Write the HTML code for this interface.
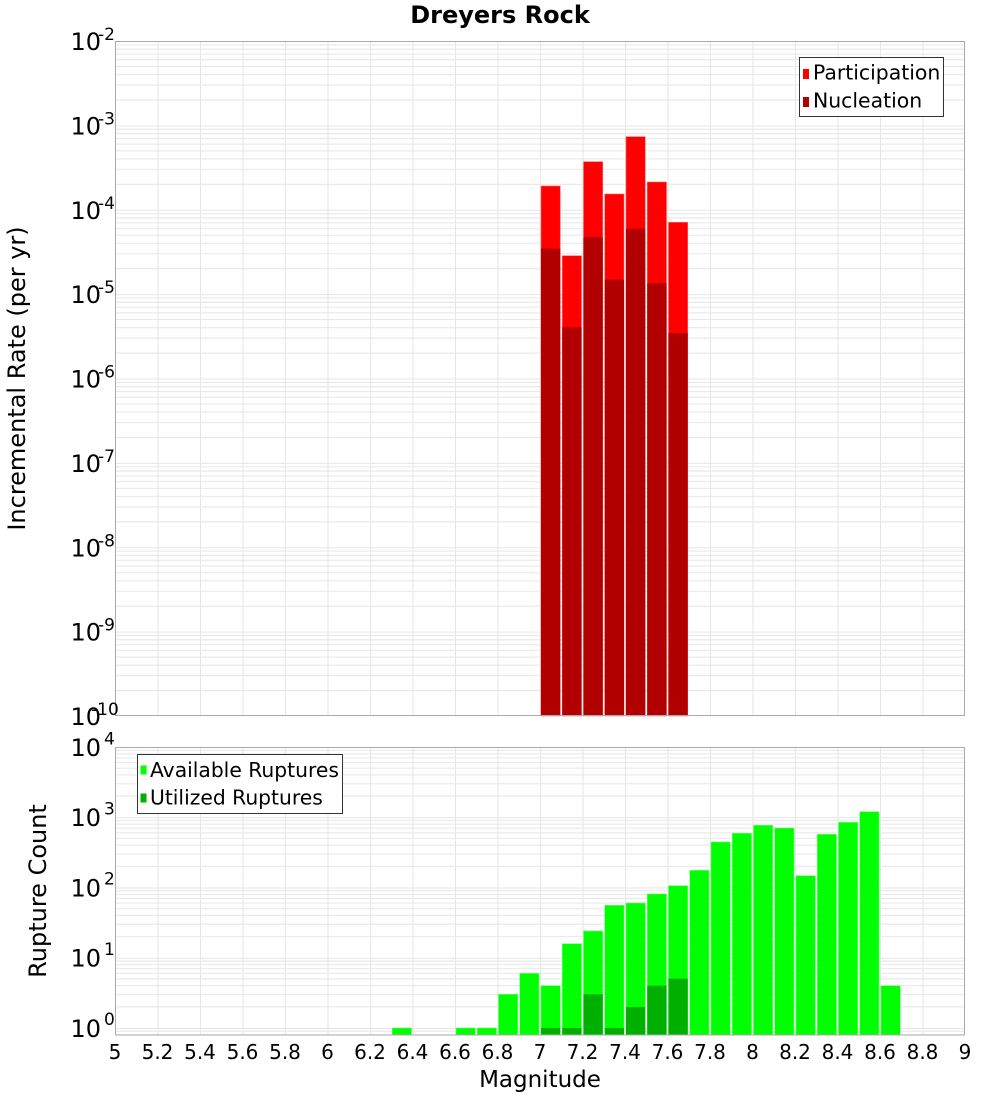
<!DOCTYPE html>
<html><head><meta charset="utf-8"><style>
html,body{margin:0;padding:0;background:#fff;}
svg{display:block;}
text{font-family:"DejaVu Sans","Liberation Sans",sans-serif;fill:#000;}
</style></head><body>
<svg width="1000" height="1100" viewBox="0 0 1000 1100" xmlns="http://www.w3.org/2000/svg">
<defs>
<pattern id="gt" patternUnits="userSpaceOnUse" x="0" y="41" width="1000" height="84.375">
<g stroke="#e6e6e6" stroke-width="1">
<line x1="0" x2="1000" y1="0.5" y2="0.5"/>
<line x1="0" x2="1000" y1="58.975" y2="58.975"/>
<line x1="0" x2="1000" y1="44.115" y2="44.115"/>
<line x1="0" x2="1000" y1="33.575" y2="33.575"/>
<line x1="0" x2="1000" y1="25.405" y2="25.405"/>
<line x1="0" x2="1000" y1="18.715" y2="18.715"/>
<line x1="0" x2="1000" y1="13.075" y2="13.075"/>
<line x1="0" x2="1000" y1="8.175" y2="8.175"/>
<line x1="0" x2="1000" y1="3.865" y2="3.865"/>
</g></pattern>
<pattern id="gb" patternUnits="userSpaceOnUse" x="0" y="747" width="1000" height="70.25">
<g stroke="#e6e6e6" stroke-width="1">
<line x1="0" x2="1000" y1="0.5" y2="0.5"/>
<line x1="0" x2="1000" y1="49.10" y2="49.10"/>
<line x1="0" x2="1000" y1="36.73" y2="36.73"/>
<line x1="0" x2="1000" y1="27.96" y2="27.96"/>
<line x1="0" x2="1000" y1="21.15" y2="21.15"/>
<line x1="0" x2="1000" y1="15.58" y2="15.58"/>
<line x1="0" x2="1000" y1="10.88" y2="10.88"/>
<line x1="0" x2="1000" y1="6.81" y2="6.81"/>
<line x1="0" x2="1000" y1="3.21" y2="3.21"/>
</g></pattern>
<pattern id="gv" patternUnits="userSpaceOnUse" x="115" y="0" width="42.5" height="1100">
<line x1="0.5" x2="0.5" y1="0" y2="1100" stroke="#e6e6e6" stroke-width="1"/>
</pattern>
</defs>

<!-- Title -->
<text x="500" y="23" font-size="24" font-weight="bold" text-anchor="middle">Dreyers Rock</text>

<!-- TOP PLOT -->
<rect x="115" y="41" width="850" height="675" fill="url(#gt)"/>
<rect x="115" y="41" width="850" height="675" fill="url(#gv)"/>

<!-- participation -->
<g fill="#ff0000" stroke="#ff6666" stroke-width="0.6">
<rect x="541" y="186" width="19.25" height="530"/>
<rect x="562.25" y="255.7" width="19.25" height="460.3"/>
<rect x="583.5" y="161.7" width="19.25" height="554.3"/>
<rect x="604.75" y="194" width="19.25" height="522"/>
<rect x="626" y="136.7" width="19.25" height="579.3"/>
<rect x="647.25" y="182" width="19.25" height="534"/>
<rect x="668.5" y="222.3" width="19.25" height="493.7"/>
</g>
<!-- nucleation -->
<g fill="#b20000">
<rect x="541" y="248.7" width="19.25" height="467.3"/>
<rect x="562.25" y="327.3" width="19.25" height="388.7"/>
<rect x="583.5" y="237.3" width="19.25" height="478.7"/>
<rect x="604.75" y="279.7" width="19.25" height="436.3"/>
<rect x="626" y="228.7" width="19.25" height="487.3"/>
<rect x="647.25" y="283.3" width="19.25" height="432.7"/>
<rect x="668.5" y="333" width="19.25" height="383"/>
</g>
<rect x="115.5" y="41.5" width="849" height="674" fill="none" stroke="#aaaaaa" stroke-width="1"/>

<!-- top legend -->
<rect x="799.5" y="57.5" width="144" height="59" fill="#fff" stroke="#333" stroke-width="1"/>
<rect x="803" y="69" width="6" height="10" fill="#ff0000"/>
<rect x="803" y="97" width="6" height="10" fill="#b20000"/>
<text x="813" y="79.5" font-size="20.4">Participation</text>
<text x="813" y="107.5" font-size="20.4">Nucleation</text>

<!-- top y labels -->
<g font-size="24">
<text x="70.5" y="50">10</text>
<text x="70.5" y="134.4">10</text>
<text x="70.5" y="218.75">10</text>
<text x="70.5" y="303.1">10</text>
<text x="70.5" y="387.5">10</text>
<text x="70.5" y="471.9">10</text>
<text x="70.5" y="556.25">10</text>
<text x="70.5" y="640.6">10</text>
<text x="70.5" y="725">10</text>
</g>
<g font-size="17">
<text x="98" y="40">-2</text>
<text x="98" y="124.4">-3</text>
<text x="98" y="208.75">-4</text>
<text x="98" y="293.1">-5</text>
<text x="98" y="377.5">-6</text>
<text x="98" y="461.9">-7</text>
<text x="98" y="546.25">-8</text>
<text x="98" y="630.6">-9</text>
<text x="91" y="715">-10</text>
</g>
<text transform="translate(25,378.5) rotate(-90)" font-size="24" text-anchor="middle">Incremental Rate (per yr)</text>

<!-- BOTTOM PLOT -->
<rect x="115" y="747" width="850" height="288" fill="url(#gb)"/>
<rect x="115" y="747" width="850" height="288" fill="url(#gv)"/>

<!-- available -->
<g fill="#00ff00" stroke="#66ff66" stroke-width="0.6">
<rect x="392.25" y="1028" width="19.25" height="7"/>
<rect x="456" y="1028" width="19.25" height="7"/>
<rect x="477.25" y="1028" width="19.25" height="7"/>
<rect x="498.5" y="994.3" width="19.25" height="40.7"/>
<rect x="519.75" y="973.3" width="19.25" height="61.7"/>
<rect x="541" y="985.7" width="19.25" height="49.3"/>
<rect x="562.25" y="943.7" width="19.25" height="91.3"/>
<rect x="583.5" y="931" width="19.25" height="104"/>
<rect x="604.75" y="905.3" width="19.25" height="129.7"/>
<rect x="626" y="903" width="19.25" height="132"/>
<rect x="647.25" y="894" width="19.25" height="141"/>
<rect x="668.5" y="885.7" width="19.25" height="149.3"/>
<rect x="689.75" y="870.3" width="19.25" height="164.7"/>
<rect x="711" y="842" width="19.25" height="193"/>
<rect x="732.25" y="833.3" width="19.25" height="201.7"/>
<rect x="753.5" y="825.3" width="19.25" height="209.7"/>
<rect x="774.75" y="828" width="19.25" height="207"/>
<rect x="796" y="875.7" width="19.25" height="159.3"/>
<rect x="817.25" y="834.3" width="19.25" height="200.7"/>
<rect x="838.5" y="822.3" width="19.25" height="212.7"/>
<rect x="859.75" y="811.7" width="19.25" height="223.3"/>
<rect x="881" y="985.7" width="19.25" height="49.3"/>
</g>
<!-- utilized -->
<g fill="#00b000">
<rect x="541" y="1028" width="19.25" height="7"/>
<rect x="562.25" y="1028" width="19.25" height="7"/>
<rect x="583.5" y="994.3" width="19.25" height="40.7"/>
<rect x="604.75" y="1028" width="19.25" height="7"/>
<rect x="626" y="1007" width="19.25" height="28"/>
<rect x="647.25" y="985.7" width="19.25" height="49.3"/>
<rect x="668.5" y="978.7" width="19.25" height="56.3"/>
</g>
<rect x="115.5" y="747.5" width="849" height="287.5" fill="none" stroke="#aaaaaa" stroke-width="1"/>

<!-- bottom legend -->
<rect x="137.5" y="754.5" width="205" height="59" fill="#fff" stroke="#333" stroke-width="1"/>
<rect x="140.5" y="765.5" width="6" height="9" fill="#00ff00"/>
<rect x="140.5" y="793.5" width="6" height="9" fill="#00b000"/>
<text x="150" y="777" font-size="20.3">Available Ruptures</text>
<text x="150" y="804.5" font-size="20.3">Utilized Ruptures</text>

<!-- bottom y labels -->
<g font-size="24">
<text x="70.5" y="756">10</text>
<text x="70.5" y="826">10</text>
<text x="70.5" y="896.5">10</text>
<text x="70.5" y="966.5">10</text>
<text x="70.5" y="1037">10</text>
</g>
<g font-size="17">
<text x="104" y="744.5">4</text>
<text x="104" y="814.5">3</text>
<text x="104" y="884.5">2</text>
<text x="104" y="955">1</text>
<text x="104" y="1025">0</text>
</g>
<text transform="translate(46,891) rotate(-90)" font-size="24" text-anchor="middle">Rupture Count</text>

<!-- x tick labels -->
<g font-size="20" text-anchor="middle">
<text x="115" y="1059">5</text>
<text x="157.5" y="1059">5.2</text>
<text x="200" y="1059">5.4</text>
<text x="242.5" y="1059">5.6</text>
<text x="285" y="1059">5.8</text>
<text x="327.5" y="1059">6</text>
<text x="370" y="1059">6.2</text>
<text x="412.5" y="1059">6.4</text>
<text x="455" y="1059">6.6</text>
<text x="497.5" y="1059">6.8</text>
<text x="540" y="1059">7</text>
<text x="582.5" y="1059">7.2</text>
<text x="625" y="1059">7.4</text>
<text x="667.5" y="1059">7.6</text>
<text x="710" y="1059">7.8</text>
<text x="752.5" y="1059">8</text>
<text x="795" y="1059">8.2</text>
<text x="837.5" y="1059">8.4</text>
<text x="880" y="1059">8.6</text>
<text x="922.5" y="1059">8.8</text>
<text x="965" y="1059">9</text>
</g>
<text x="540" y="1087" font-size="23" text-anchor="middle">Magnitude</text>
</svg>
</body></html>
